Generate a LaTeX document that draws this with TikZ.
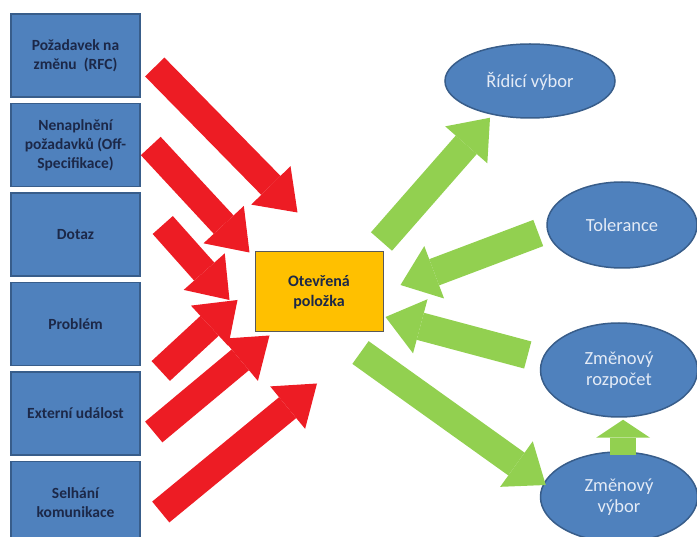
\documentclass[tikz,border=0pt]{standalone}
\usepackage{fontspec}
\setmainfont{Carlito}
\usepackage{xcolor}
\usepackage{tikz}
\usetikzlibrary{arrows.meta, positioning, calc, shapes.geometric}
\definecolor{boxblue}{RGB}{79, 129, 189}
\definecolor{boxedge}{RGB}{56, 93, 138}
\definecolor{navytext}{RGB}{28, 40, 72}
\definecolor{itemorange}{RGB}{255, 192, 0}
\definecolor{arrowred}{RGB}{237, 28, 36}
\definecolor{arrowgreen}{RGB}{146, 208, 80}
\definecolor{ovaltext}{RGB}{228, 235, 246}

\begin{document}
\begin{tikzpicture}[x=1pt, y=-1pt,
    srcbox/.style={draw=boxedge, line width=1.5pt, fill=boxblue, minimum width=129pt, minimum height=83pt,
        align=center, text=navytext, font=\fontsize{15.5}{19}\selectfont\bfseries},
    itembox/.style={draw=black!65, line width=1pt, fill=itemorange, minimum width=128pt, minimum height=80pt,
        align=center, text=navytext, font=\fontsize{16}{20}\selectfont\bfseries},
    oval/.style={ellipse, draw=boxedge, line width=1.5pt, fill=boxblue, inner sep=0pt,
        align=center, text=ovaltext, font=\fontsize{18.5}{21}\selectfont},
    redarrow/.style={arrowred, line width=27pt, -{Triangle[width=55pt, length=38pt, line width=0pt]}},
    greenarrow/.style={arrowgreen, line width=28pt, -{Triangle[width=56pt, length=36pt, line width=0pt]}},
    smallarrow/.style={arrowgreen, line width=26pt, -{Triangle[width=54pt, length=18pt, line width=0pt]}}]
    \useasboundingbox (0, 0) rectangle (697, 537);

    % zdroje vlevo
    \node[srcbox] (rfc) at (75.5, 55.5) {Požadavek na\\změnu\ \ (RFC)};
    \node[srcbox, below=5pt of rfc] (offspec) {Nenaplnění\\požadavků (Off-\\Specifikace)};
    \node[srcbox, below=5pt of offspec] (dotaz) {Dotaz};
    \node[srcbox, below=5pt of dotaz] (problem) {Problém};
    \node[srcbox, below=5pt of problem] (externi) {Externí událost};
    \node[srcbox, below=5pt of externi] (selhani) {Selhání\\komunikace};

    % otevrena polozka
    \node[itembox] (item) at (319, 292) {Otevřená\\položka};

    % elipsy vpravo
    \node[oval, minimum width=170pt, minimum height=74pt] (ridici) at (530, 81) {Řídicí výbor};
    \node[oval, minimum width=150pt, minimum height=86pt] (tolerance) at (622, 225) {Tolerance};
    \node[oval, minimum width=157pt, minimum height=94pt] (rozpocet) at (619, 370) {Změnový\\rozpočet};
    \node[oval, minimum width=157pt, minimum height=90pt] (vybor) at (619, 497) {Změnový\\výbor};

    % cervene sipky
    \draw[redarrow] ([shift={(14, 11.5)}]rfc.east) -- ([shift={(43, -39)}]item.north west);
    \draw[redarrow] ([shift={(10, 1)}]offspec.east) -- ([shift={(-5, 1)}]item.north west);
    \draw[redarrow] ([shift={(22, -9.5)}]dotaz.east) -- ([shift={(-25, 8)}]item.west);
    \draw[redarrow] ([shift={(20, 47)}]problem.east) -- ([shift={(-17, 8)}]item.west);
    \draw[redarrow] ([shift={(13, 18.5)}]externi.east) -- ([shift={(15, 3)}]item.south west);
    \draw[redarrow] ([shift={(20, 9)}]selhani.east) -- ([shift={(-2, 51)}]item.south);

    % zelene sipky
    \draw[greenarrow] ([shift={(-2, -10)}]item.north east) -- ([shift={(-40, -1)}]ridici.south);
    \draw[greenarrow] ([shift={(-8, 8)}]tolerance.west) -- ([shift={(17, -7)}]item.east);
    \draw[greenarrow] ([shift={(-12, -15)}]rozpocet.west) -- ([shift={(2, 25)}]item.east);
    \draw[greenarrow] ([shift={(-23, 20)}]item.south east) -- ([shift={(6, -12)}]vybor.west);
    \draw[smallarrow] ([shift={(4, 4)}]vybor.north) -- ([shift={(4, 2)}]rozpocet.south);
\end{tikzpicture}
\end{document}
